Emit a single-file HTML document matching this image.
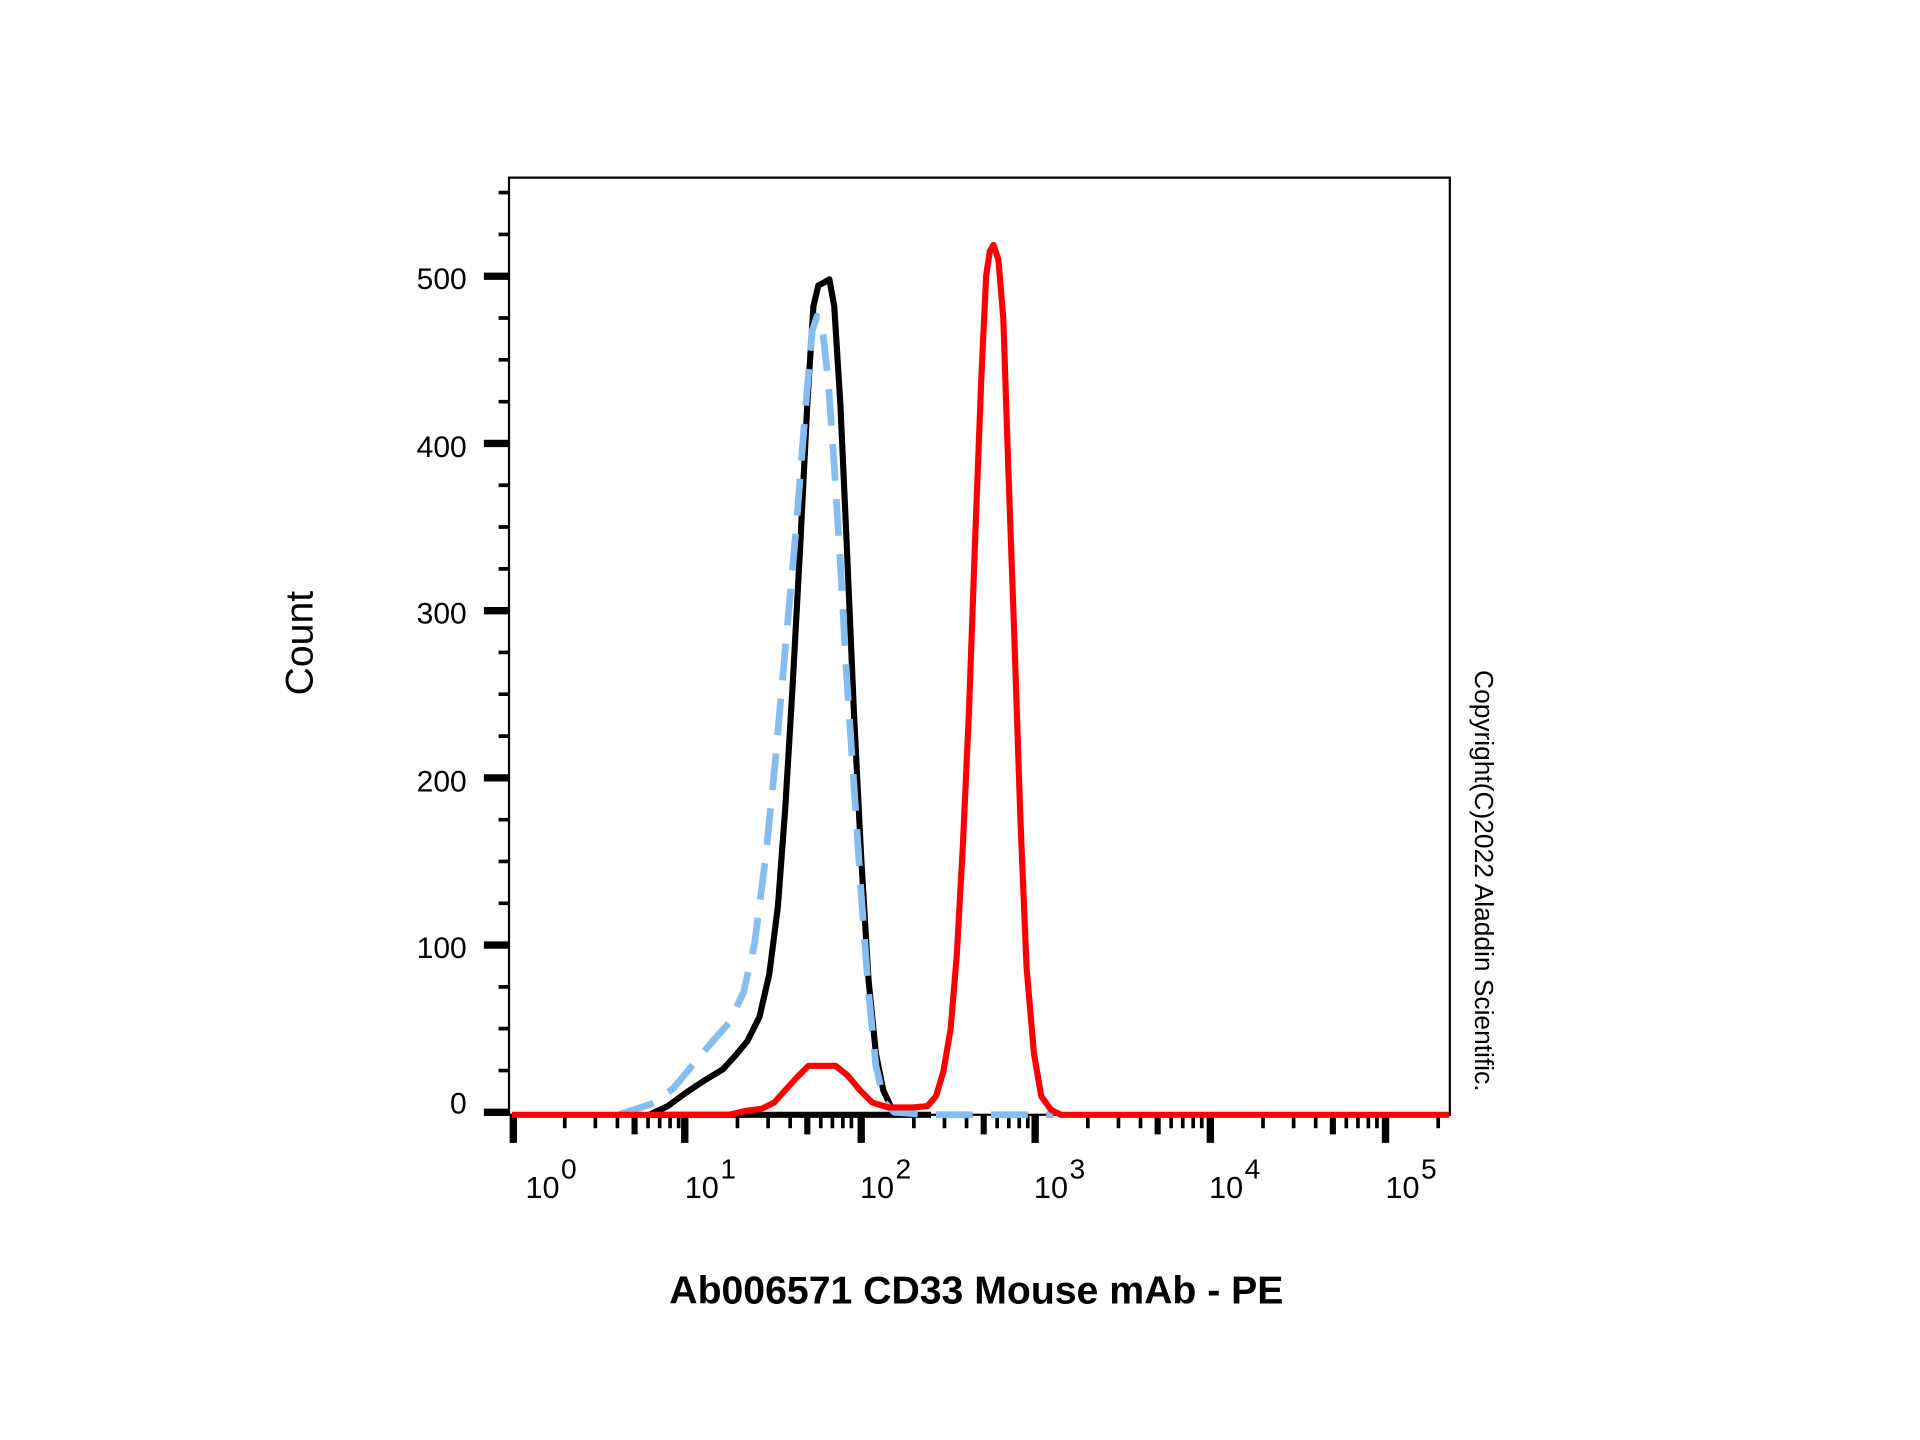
<!DOCTYPE html>
<html><head><meta charset="utf-8"><style>html,body{margin:0;padding:0;background:#fff}svg{display:block}</style></head>
<body>
<svg width="1920" height="1440" viewBox="0 0 1567.3 1175.5" preserveAspectRatio="none" xmlns="http://www.w3.org/2000/svg" font-family="Liberation Sans, Arial, sans-serif">
<rect x="0" y="0" width="1567.3" height="1175.5" fill="#fff"/>
<rect x="415.5" y="145" width="768" height="765" fill="none" stroke="#000" stroke-width="1.8"/>
<path stroke="#000" stroke-width="6" fill="none" d="M395 908H415M395 771.5H415M395 635H415M395 498.5H415M395 362H415M395 225.5H415"/>
<path stroke="#000" stroke-width="3" fill="none" d="M407 873.9H415M407 839.7H415M407 805.6H415M407 737.4H415M407 703.2H415M407 669.1H415M407 600.9H415M407 566.7H415M407 532.6H415M407 464.4H415M407 430.2H415M407 396.1H415M407 327.9H415M407 293.7H415M407 259.6H415M407 191.4H415M407 157.2H415"/>
<path stroke="#000" stroke-width="6" fill="none" d="M419 910V933M559 910V933M703 910V933M845 910V933M988 910V933M1131 910V933"/>
<path stroke="#000" stroke-width="5" fill="none" d="M518 910V926M659 910V926M803 910V926M945 910V926M1088 910V926"/>
<path stroke="#000" stroke-width="3" fill="none" d="M461 910V921M486 910V921M504 910V921M529 910V921M538.5 910V921M547 910V921M554 910V921
M602 910V921M627 910V921M645 910V921M670 910V921M679.5 910V921M688 910V921M695 910V921
M746 910V921M771 910V921M789 910V921M814 910V921M823.5 910V921M832 910V921M839 910V921
M888 910V921M913 910V921M931 910V921M956 910V921M965.5 910V921M974 910V921M981 910V921
M1031 910V921M1056 910V921M1074 910V921M1099 910V921M1108.5 910V921M1117 910V921M1124 910V921M1174 910V921"/>
<g font-size="24.5" text-anchor="end" fill="#000">
<text x="381" y="236">500</text><text x="381" y="373">400</text><text x="381" y="509">300</text><text x="381" y="646">200</text><text x="381" y="782">100</text><text x="381" y="909">0</text>
</g>
<g font-size="25" fill="#000">
<text x="429" y="978">10</text><text x="458" y="962" font-size="23">0</text>
<text x="559" y="978">10</text><text x="588" y="962" font-size="23">1</text>
<text x="702" y="978">10</text><text x="731" y="962" font-size="23">2</text>
<text x="844" y="978">10</text><text x="873" y="962" font-size="23">3</text>
<text x="987" y="978">10</text><text x="1016" y="962" font-size="23">4</text>
<text x="1131" y="978">10</text><text x="1160" y="962" font-size="23">5</text>
</g>
<text x="0" y="0" font-size="32" transform="translate(255,525) rotate(-90)" text-anchor="middle">Count</text>
<text x="797" y="1064" font-size="32" font-weight="bold" text-anchor="middle">Ab006571 CD33 Mouse mAb - PE</text>
<text x="0" y="0" font-size="21.5" transform="translate(1204,719) rotate(90)" text-anchor="middle">Copyright(C)2022 Aladdin Scientific.</text>
<polyline fill="none" stroke="#000" stroke-width="5" stroke-linejoin="round" points="760,910 530,910 545,903 560,892 575,882 590,873 600,862 610,850 620,830 628,795 635,740 641,660 647,560 653,450 659,330 664,250 668,233 672,231 677,228 681,250 686,330 691,440 697,580 703,700 709,800 715,860 721,890 728,905 740,910 760,910"/>
<polyline fill="none" stroke="#86bdf0" stroke-width="5.5" stroke-dasharray="30,15" stroke-linejoin="round" points="505,910 520,905 535,900 550,888 565,870 580,852 595,835 607,810 616,770 625,700 633,620 641,530 650,430 657,340 663,270 667,258 671,265 676,310 681,380 686,460 691,550 697,640 703,730 709,810 715,870 722,900 730,908 760,910 860,910"/>
<polyline fill="none" stroke="#f00" stroke-width="5" stroke-linejoin="round" points="418,910 595,910 608,907 622,905 632,900 641,890 650,880 660,870 682,870 692,878 702,890 712,900 725,904 745,904 757,903 764,895 770,875 776,840 781,780 786,690 791,580 796,440 801,310 805,225 808,205 811,200 815,212 819,260 823,380 828,520 833,670 838,790 844,860 850,895 858,906 866,910 1183,910"/>
</svg>
</body></html>
